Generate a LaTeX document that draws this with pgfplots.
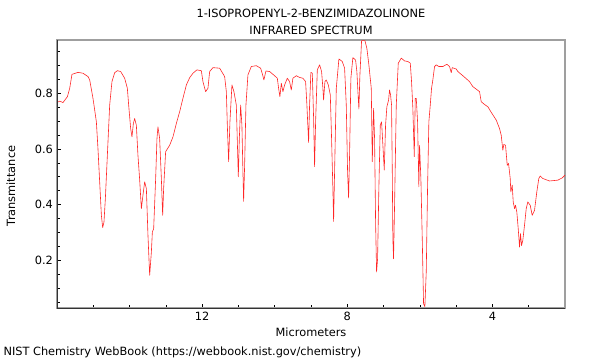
\documentclass[border=0pt]{standalone}
\usepackage{fontspec}
\setmainfont{DejaVu Sans}
\usepackage{pgfplots}
\pgfplotsset{compat=1.18}
\usepackage{pgfplotstable}
\pgfplotstableread{
x y
15.989 0.767
15.926 0.771
15.835 0.766
15.713 0.787
15.650 0.817
15.587 0.867
15.421 0.874
15.284 0.871
15.146 0.859
15.099 0.847
15.008 0.781
14.915 0.697
14.871 0.601
14.824 0.482
14.777 0.362
14.741 0.318
14.705 0.338
14.667 0.422
14.612 0.577
14.548 0.757
14.485 0.841
14.410 0.873
14.336 0.880
14.245 0.877
14.135 0.853
14.061 0.817
14.025 0.757
13.970 0.673
13.934 0.643
13.895 0.691
13.860 0.709
13.813 0.685
13.769 0.577
13.722 0.490
13.675 0.386
13.631 0.434
13.584 0.482
13.537 0.458
13.493 0.290
13.446 0.147
13.399 0.231
13.372 0.302
13.336 0.314
13.281 0.494
13.245 0.637
13.218 0.679
13.171 0.637
13.124 0.494
13.088 0.362
13.061 0.458
13.006 0.590
12.895 0.613
12.804 0.643
12.711 0.691
12.620 0.733
12.529 0.781
12.435 0.829
12.344 0.855
12.253 0.871
12.143 0.883
12.022 0.880
11.978 0.841
11.904 0.805
11.840 0.817
11.793 0.877
11.702 0.891
11.518 0.889
11.380 0.859
11.333 0.805
11.306 0.685
11.270 0.554
11.234 0.697
11.179 0.829
11.124 0.805
11.058 0.757
11.030 0.626
11.003 0.500
10.975 0.637
10.939 0.757
10.904 0.685
10.876 0.518
10.857 0.412
10.829 0.541
10.793 0.757
10.738 0.865
10.645 0.895
10.507 0.898
10.388 0.889
10.333 0.865
10.298 0.847
10.242 0.879
10.140 0.877
10.003 0.862
9.928 0.853
9.893 0.817
9.857 0.787
9.818 0.835
9.774 0.805
9.727 0.829
9.653 0.853
9.590 0.841
9.543 0.811
9.499 0.853
9.405 0.862
9.314 0.856
9.223 0.853
9.149 0.841
9.113 0.757
9.066 0.623
9.039 0.757
9.003 0.874
8.964 0.871
8.928 0.709
8.901 0.536
8.873 0.697
8.826 0.883
8.763 0.901
8.708 0.877
8.672 0.817
8.653 0.775
8.617 0.841
8.579 0.847
8.523 0.829
8.468 0.793
8.433 0.637
8.397 0.458
8.377 0.340
8.350 0.518
8.303 0.817
8.231 0.922
8.138 0.913
8.074 0.889
8.028 0.757
7.992 0.518
7.964 0.424
7.937 0.577
7.901 0.853
7.846 0.927
7.771 0.918
7.736 0.877
7.697 0.781
7.680 0.743
7.653 0.862
7.606 0.988
7.515 0.988
7.460 0.960
7.405 0.901
7.339 0.817
7.311 0.554
7.295 0.637
7.275 0.745
7.248 0.637
7.220 0.338
7.193 0.159
7.165 0.206
7.130 0.458
7.091 0.685
7.055 0.697
7.019 0.613
6.981 0.524
6.945 0.685
6.909 0.751
6.862 0.775
6.835 0.811
6.807 0.793
6.780 0.757
6.760 0.518
6.744 0.278
6.725 0.206
6.697 0.398
6.650 0.757
6.595 0.907
6.512 0.925
6.421 0.915
6.331 0.913
6.264 0.907
6.229 0.841
6.193 0.745
6.154 0.572
6.127 0.781
6.099 0.781
6.063 0.697
6.028 0.464
6.008 0.613
5.972 0.494
5.934 0.278
5.898 0.045
5.862 0.035
5.824 0.159
5.788 0.458
5.752 0.697
5.713 0.757
5.678 0.817
5.642 0.847
5.595 0.895
5.548 0.901
5.477 0.895
5.366 0.895
5.256 0.903
5.182 0.895
5.135 0.873
5.107 0.891
4.997 0.886
4.953 0.877
4.815 0.862
4.631 0.841
4.540 0.823
4.355 0.805
4.309 0.769
4.218 0.759
4.127 0.751
4.033 0.731
3.895 0.703
3.804 0.673
3.758 0.649
3.713 0.595
3.686 0.616
3.639 0.613
3.592 0.541
3.556 0.548
3.510 0.494
3.493 0.446
3.455 0.470
3.427 0.410
3.391 0.386
3.364 0.398
3.328 0.374
3.289 0.314
3.253 0.248
3.226 0.296
3.198 0.254
3.163 0.272
3.116 0.326
3.069 0.386
3.025 0.410
2.959 0.398
2.904 0.362
2.840 0.380
2.777 0.446
2.722 0.494
2.683 0.503
2.612 0.494
2.427 0.485
2.198 0.488
2.077 0.496
2.000 0.506
}\spectrum
\begin{document}
\begin{tikzpicture}[x=1bp,y=1bp]
\path[use as bounding box] (0,0) rectangle (600,360);
\begin{axis}[
  at={(57bp,52bp)}, anchor=south west,
  width=508bp, height=268bp, scale only axis,
  xmin=2, xmax=16, x dir=reverse,
  ymin=0.03, ymax=0.99,
  xtick={4,8,12}, minor xtick={3,5,6,7,9,10,11,13,14,15},
  ytick={0.2,0.4,0.6,0.8}, minor ytick={0.05,0.1,0.15,0.25,0.3,0.35,0.45,0.5,0.55,0.65,0.7,0.75,0.85,0.9,0.95},
  yticklabel style={/pgf/number format/fixed,/pgf/number format/precision=1},
  xtick pos=bottom, ytick pos=left,
  tick align=inside,
  major tick length=4bp, minor tick length=3bp,
  every tick/.style={black, line width=0.6pt},
  axis line style={draw=gray!75, line width=1.2pt},
  tick label style={font=\fontsize{11.4}{13}\selectfont},
  /pgf/number format/assume math mode=true,
  xticklabel style={yshift=-1bp},
  yticklabel style={xshift=-0.5bp},
  clip=true,
]
\addplot[red!85!white, line width=0.6pt, line join=round] table[x=x,y=y] {\spectrum};
\draw[black!80, line width=0.8pt] (rel axis cs:0,1) -- (rel axis cs:0,0) -- (rel axis cs:1,0);
\end{axis}
\node[font=\fontsize{11.4}{13}\selectfont] at (311,347) {1-ISOPROPENYL-2-BENZIMIDAZOLINONE};
\node[font=\fontsize{11.4}{13}\selectfont] at (311,330) {INFRARED SPECTRUM};
\node[font=\fontsize{11.4}{13}\selectfont] at (311,28) {Micrometers};
\node[font=\fontsize{11.4}{13}\selectfont, rotate=90] at (11,174) {Transmittance};
\node[font=\fontsize{11.4}{13}\selectfont, anchor=west] at (0,8) {NIST Chemistry WebBook (https://webbook.nist.gov/chemistry)};
\end{tikzpicture}
\end{document}
